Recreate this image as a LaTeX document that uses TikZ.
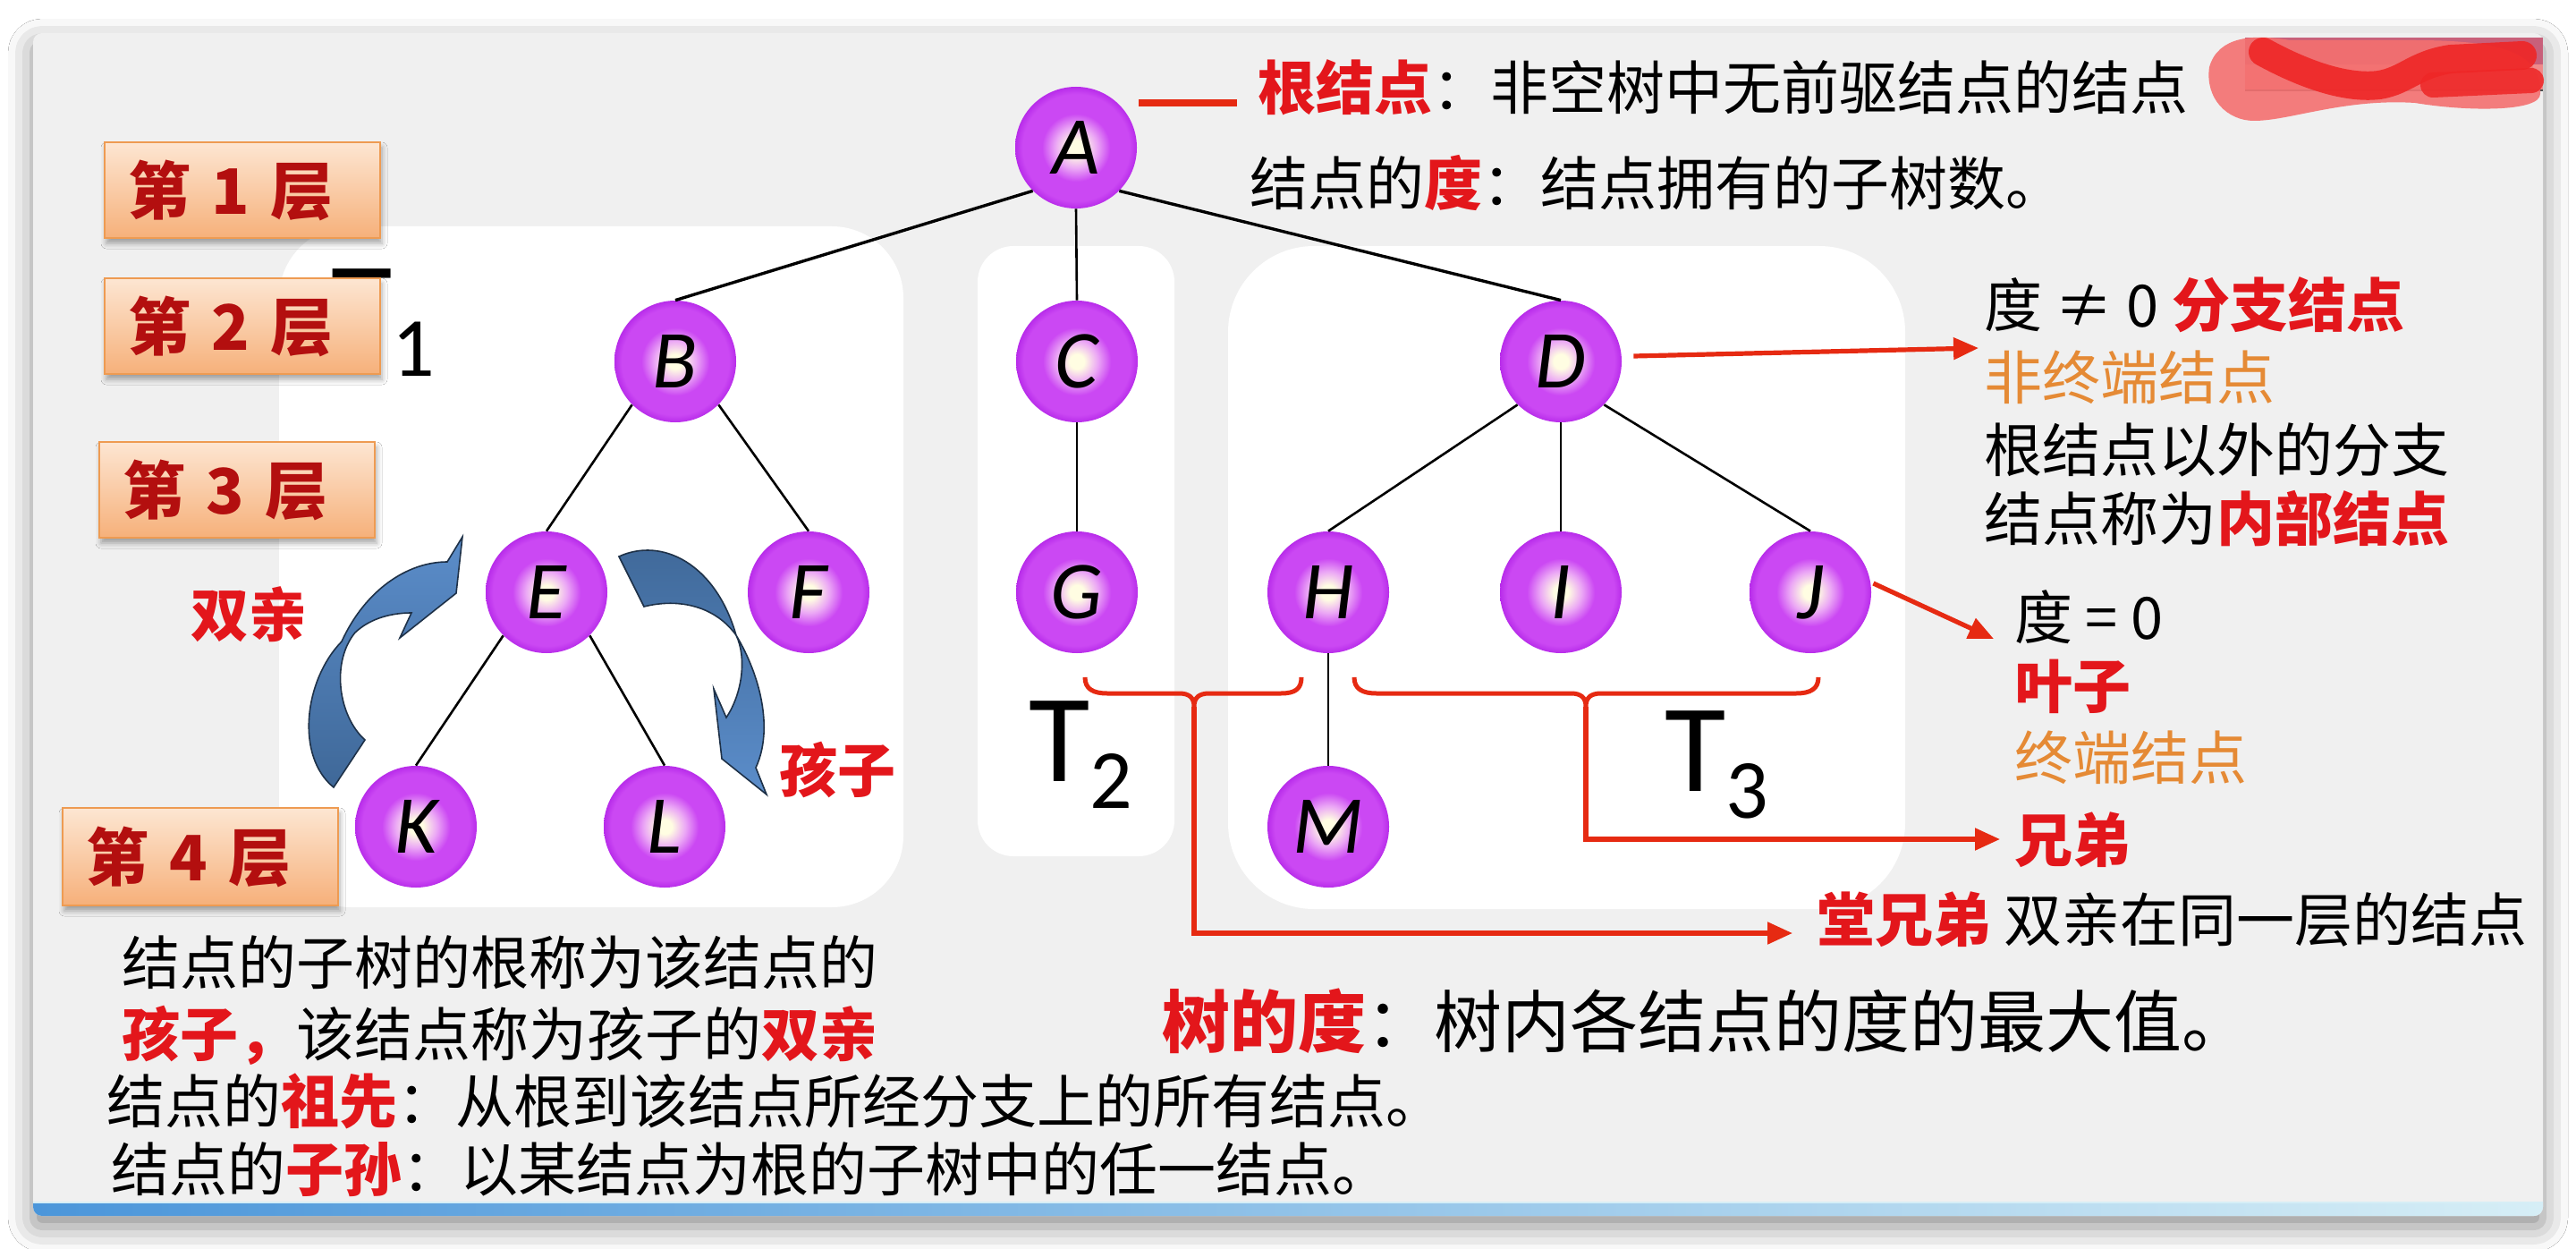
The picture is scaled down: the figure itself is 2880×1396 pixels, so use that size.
\documentclass[tikz,border=0pt]{standalone}
\usepackage{fontspec}
\usetikzlibrary{arrows.meta,shadows.blur,calc}
\newfontfamily\cjk{Noto Sans CJK SC}
\newfontfamily\latinit{Carlito}
\definecolor{panelbg}{HTML}{F0F0F0}
\definecolor{hlred}{HTML}{E3161B}
\definecolor{lnred}{HTML}{E62A12}
\definecolor{hlorange}{HTML}{E58A35}
\definecolor{lyrtext}{HTML}{B30F0F}
\definecolor{lyrtop}{HTML}{FDE6D2}
\definecolor{lyrbot}{HTML}{F6B07A}
\definecolor{lyrline}{HTML}{EE9B52}
\definecolor{ballin}{HTML}{FFFDE2}
\definecolor{ballmid}{HTML}{EBA8F5}
\definecolor{ballout}{HTML}{CB48F3}
\definecolor{ballrim}{HTML}{B82CEA}
\definecolor{arrdark}{HTML}{3F6898}
\definecolor{arrlight}{HTML}{5B8DCA}
\definecolor{arredge}{HTML}{1E3148}
\definecolor{bardark}{HTML}{4B96DA}
\definecolor{barmid}{HTML}{66ABE5}
\definecolor{barlight}{HTML}{D6EEF6}
\definecolor{scribA}{HTML}{F47070}
\definecolor{scribB}{HTML}{EE2626}
\definecolor{mosaicA}{HTML}{C8607A}
\definecolor{mosaicB}{HTML}{F08A8A}
\pgfdeclareradialshading{ballshade}{\pgfpoint{0bp}{0bp}}{color(0bp)=(ballin); color(3bp)=(ballin); color(8.5bp)=(ballmid); color(14bp)=(ballout); color(22bp)=(ballout); color(25bp)=(ballrim); color(50bp)=(ballrim)}
\newcommand\hlr[1]{\textcolor{hlred}{\bfseries #1}}
\newcommand\tsub[1]{\raisebox{-15pt}{\fontsize{47pt}{47pt}\selectfont #1}}
\tikzset{
  ball/.style={circle, minimum size=68pt, inner sep=0pt, shade, shading=ballshade,
    font=\latinit\itshape\fontsize{46pt}{46pt}\selectfont, text height=29.5pt, text depth=0pt},
  treeedge/.style={line width=1.3pt, black},
  topedge/.style={line width=1.7pt, black},
  lyrbox/.style={anchor=north west, rectangle, minimum height=53.5pt, text width=128pt,
    inner xsep=13pt, inner ysep=0pt, align=left, top color=lyrtop, bottom color=lyrbot,
    draw=lyrline, line width=1pt, text=lyrtext,
    font=\cjk\bfseries\fontsize{35pt}{40pt}\selectfont,
    blur shadow={shadow blur radius=3pt, shadow xshift=1pt, shadow yshift=-3pt, shadow opacity=35}},
  tlab/.style={anchor=base west, inner sep=0pt, font=\latinit\fontsize{70pt}{70pt}\selectfont},
  txt/.style={anchor=west, inner sep=0pt, font=\cjk\fontsize{32.5pt}{39pt}\selectfont},
  bigtxt/.style={anchor=west, inner sep=0pt, font=\cjk\fontsize{38pt}{45pt}\selectfont},
  redline/.style={draw=lnred, line width=2.5pt},
  redarrow/.style={draw=lnred, line width=2.6pt, -{Triangle[length=14pt,width=12pt]}},
  bluearrow/.style={draw=arredge, line width=0.8pt}
}
\begin{document}
\begin{tikzpicture}[x=0.5pt,y=-0.5pt]
\useasboundingbox (0,0) rectangle (2880,1396);
\fill[white] (0,0) rectangle (2880,1396);
% panel
\fill[panelbg, rounded corners=5pt, blur shadow={shadow xshift=0pt, shadow yshift=-6pt, shadow blur radius=14pt, shadow opacity=45}] (37,37) rectangle (2843,1359);
% subtree backgrounds
\fill[white, rounded corners=40pt] (312,253) rectangle (1010,1014);
\fill[white, rounded corners=20pt] (1093,275) rectangle (1313,957);
\fill[white, rounded corners=48pt] (1373,275) rectangle (2130,1016);
% subtree labels
\node[tlab] (T1) at (370,390) {T\tsub{1}};
\node[tlab] (T2) at (1150,873) {T\tsub{2}};
\node[tlab] (T3) at (1861,884) {T\tsub{3}};
% layer boxes
\node[lyrbox] (L1) at (116,158) {第 1 层};
\node[lyrbox] (L2) at (116,310) {第 2 层};
\node[lyrbox] (L3) at (110,493) {第 3 层};
\node[lyrbox, minimum height=54.5pt] (L4) at (69,902) {第 4 层};
% tree nodes
\node[ball] (A) at (1203,165) {A};
\node[ball] (B) at (755,404) {B};
\node[ball] (C) at (1204,404) {C};
\node[ball] (D) at (1745,404) {D};
\node[ball] (E) at (611,662) {E};
\node[ball] (F) at (904,662) {F};
\node[ball] (G) at (1204,662) {G};
\node[ball] (H) at (1485,662) {H};
\node[ball] (I) at (1745,662) {I};
\node[ball] (J) at (2024,662) {J};
\node[ball] (K) at (465,924) {K};
\node[ball] (L) at (743,924) {L};
\node[ball] (M) at (1485,924) {M};
% tree edges
\draw[topedge] (A.south west) -- (B.north);
\draw[treeedge] (A.south) -- (C.north);
\draw[topedge] (A.south east) -- (D.north);
\draw[treeedge] (B.south west) -- (E.north);
\draw[treeedge] (B.south east) -- (F.north);
\draw[treeedge] (C.south) -- (G.north);
\draw[treeedge] (D.south west) -- (H.north);
\draw[treeedge] (D.south) -- (I.north);
\draw[treeedge] (D.south east) -- (J.north);
\draw[treeedge] (E.south west) -- (K.north);
\draw[treeedge] (E.south east) -- (L.north);
\draw[treeedge] (H.south) -- (M.north);
% curved blue arrows
\path[bluearrow, top color=arrlight, bottom color=arrdark]
  (373,880) -- (408,827) .. controls (378,800) and (370,740) .. (397,707)
  .. controls (415,690) and (440,685) .. (460,685) -- (447,713) -- (510,663)
  -- (517,600) -- (500,628) .. controls (455,628) and (408,660) .. (382,717)
  .. controls (340,760) and (330,845) .. (373,880) -- cycle;
\path[bluearrow, top color=arrdark, bottom color=arrlight]
  (692,622) .. controls (740,600) and (800,630) .. (823,710)
  .. controls (850,755) and (865,815) .. (845,858) -- (857,888) -- (807,848)
  -- (798,770) -- (812,802) .. controls (830,775) and (835,735) .. (823,710)
  .. controls (800,678) and (760,668) .. (720,678) -- cycle;
% red connectors
\coordinate (rdA) at (1273,115);
\coordinate (rdB) at (1383,115);
\draw[redline, line width=4pt] (rdA) -- (rdB);
\coordinate (Dtip) at (2212,389);
\draw[redarrow] ($(D.east)+(13,-6)$) -- (Dtip);
\coordinate (Jtip) at (2229,714);
\draw[redarrow] ($(J.east)+(2,-10)$) -- (Jtip);
\coordinate (b1l) at (1213,757);
\coordinate (b1r) at (1455,757);
\coordinate (b1m) at (1335,790);
\draw[redline] (b1l) .. controls (1213,770) and (1222,775) .. (1238,775) -- (1318,775)
  .. controls (1330,775) and (1335,780) .. (b1m) .. controls (1335,780) and (1340,775) .. (1352,775)
  -- (1432,775) .. controls (1448,775) and (1455,770) .. (b1r);
\coordinate (b1c) at (1335,1043);
\coordinate (cousTip) at (2004,1043);
\draw[redarrow] (b1m) -- (b1c) -- (cousTip);
\coordinate (b2l) at (1514,757);
\coordinate (b2r) at (2033,757);
\coordinate (b2m) at (1773,790);
\draw[redline] (b2l) .. controls (1514,770) and (1523,775) .. (1539,775) -- (1756,775)
  .. controls (1768,775) and (1773,780) .. (b2m) .. controls (1773,780) and (1778,775) .. (1790,775)
  -- (2008,775) .. controls (2024,775) and (2033,770) .. (b2r);
\coordinate (b2c) at (1773,938);
\coordinate (sibTip) at (2236,938);
\draw[redarrow] (b2m) -- (b2c) -- (sibTip);
% redaction scribble
\fill[mosaicA] (2510,42) rectangle (2843,72);
\fill[mosaicB] (2510,72) rectangle (2843,100);
\draw[black!70, line width=1pt] (2510,101) -- (2843,101);
\fill[scribA, opacity=.9] (2470,75) .. controls (2480,40) and (2520,38) .. (2560,45) -- (2700,45)
  .. controls (2800,45) and (2842,60) .. (2840,105) .. controls (2840,125) and (2760,125) .. (2700,115)
  .. controls (2620,110) and (2560,135) .. (2520,135) .. controls (2490,135) and (2465,110) .. (2470,75) -- cycle;
\draw[scribB, opacity=.9, line width=16pt, line cap=round] (2530,58) .. controls (2570,80) and (2620,100) .. (2660,95)
  .. controls (2690,90) and (2700,72) .. (2740,66) -- (2820,62);
\draw[scribB, opacity=.85, line width=14pt, line cap=round] (2720,95) -- (2830,90);
% texts
\node[txt] (rootdef) at (1406,98) {\hlr{根结点}：非空树中无前驱结点的结点};
\node[txt] (degdef) at (1397,204) {结点的\hlr{度}：结点拥有的子树数。};
\node[txt] (r1) at (2218,341) {度 ≠ 0 \hlr{分支结点}};
\node[txt, text=hlorange] (r2) at (2218,422) {非终端结点};
\node[txt] (r3) at (2218,503) {根结点以外的分支};
\node[txt] (r4) at (2218,580) {结点称为\hlr{内部结点}};
\node[txt] (l1) at (2252,690) {度 = 0};
\node[txt] (l2) at (2252,767) {\hlr{叶子}};
\node[txt, text=hlorange] (l3) at (2252,847) {终端结点};
\node[txt] (sib) at (2252,939) {\hlr{兄弟}};
\begin{scope}
\clip (37,37) rectangle (2843,1359);
\node[txt] (cous) at (2031,1028) {\hlr{堂兄弟} 双亲在同一层的结点};
\end{scope}
\node[bigtxt] (treedeg) at (1299,1141) {\hlr{树的度}：树内各结点的度的最大值。};
\node[txt] (bl1) at (136,1076) {结点的子树的根称为该结点的};
\node[txt] (bl2) at (136,1157) {\hlr{孩子，}该结点称为孩子的\hlr{双亲}};
\node[txt] (bl3) at (119,1231) {结点的\hlr{祖先}：从根到该结点所经分支上的所有结点。};
\node[txt] (bl4) at (124,1307) {结点的\hlr{子孙}：以某结点为根的子树中的任一结点。};
\node[txt, anchor=center] (par) at (278,687) {\hlr{双亲}};
\node[txt, anchor=center] (chi) at (936,860) {\hlr{孩子}};
% bottom bar
\begin{scope}
\clip[rounded corners=5pt] (37,37) rectangle (2843,1359);
\shade[left color=bardark, middle color=barmid, right color=barlight] (37,1343) rectangle (2843,1360);
\draw[barlight, line width=1pt] (37,1344) -- (2843,1344);
\end{scope}
\end{tikzpicture}
\end{document}
